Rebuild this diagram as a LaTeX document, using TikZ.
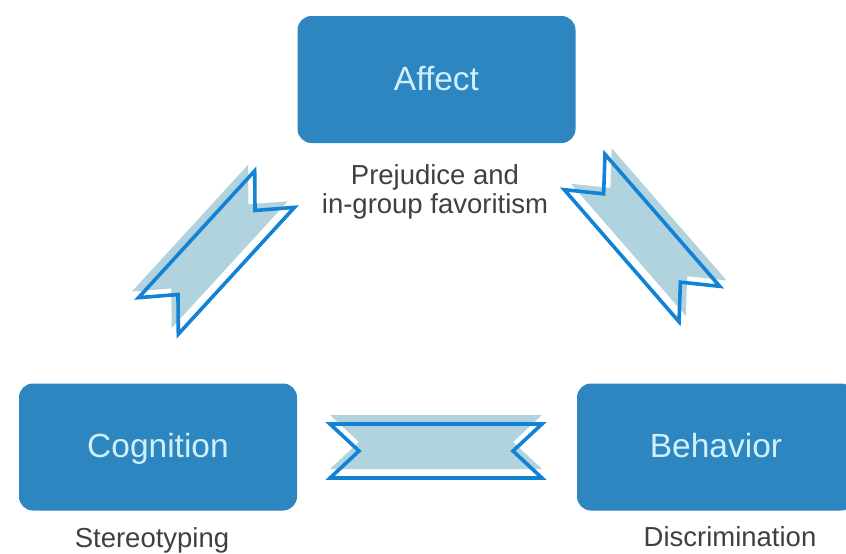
\documentclass[tikz,border=0pt]{standalone}
\usepackage{fontspec}
\setmainfont{Liberation Sans}

\definecolor{boxblue}{RGB}{46,134,192}
\definecolor{boxtext}{RGB}{205,240,252}
\definecolor{ribbonline}{RGB}{18,130,214}
\definecolor{ribbonshade}{RGB}{176,211,222}
\definecolor{labelgray}{RGB}{64,64,64}

% ribbon outline of given length, notched at both ends
\newcommand{\ribbonpath}[1]{(-#1/2,-27) -- (#1/2,-27) -- (#1/2-29,0) -- (#1/2,27) -- (-#1/2,27) -- (-#1/2+29,0) -- cycle}

\tikzset{
  corner/.style={rectangle, rounded corners=14pt, fill=boxblue, text=boxtext,
    minimum width=278pt, minimum height=127pt, inner sep=0pt,
    text height=24pt, text depth=3pt,
    font=\fontsize{33.5}{40}\selectfont},
  caption/.style={text=labelgray, align=center,
    font=\fontsize{27.5}{29}\selectfont},
  oneline/.style={text height=20pt, text depth=6pt},
  pics/ribbon/.style={code={
    \fill[ribbonshade, shift={(0,-9)}] \ribbonpath{#1};
    \draw[ribbonline, line width=3.6pt, miter limit=20] \ribbonpath{#1};
  }},
}

\begin{document}
\begin{tikzpicture}[x=1pt, y=-1pt]
        \useasboundingbox (0,0) rectangle (846,554);
        \clip (0,0) rectangle (846,554);
        % Corners of the triangle
        \node (affect) at (436.5,79.5) [corner] {Affect};
        \node (cognition) at (158,447) [corner] {Cognition};
        \node (behavior) at (716,447) [corner] {Behavior};
        % Captions
        \node (prejudice) at (435,192) [caption] {Prejudice and\\in-group favoritism};
        \node (stereo) at (152,540) [caption, oneline] {Stereotyping};
        \node (discrim) at (730,539.5) [caption, oneline] {Discrimination};
        % Ribbons between the corners
        \pic[rotate=47.5] at (216.5,252.5) {ribbon=172};
        \pic[rotate=-49] at (642,238) {ribbon=175};
        \pic at (436,451) {ribbon=212};
      \end{tikzpicture}
\end{document}
